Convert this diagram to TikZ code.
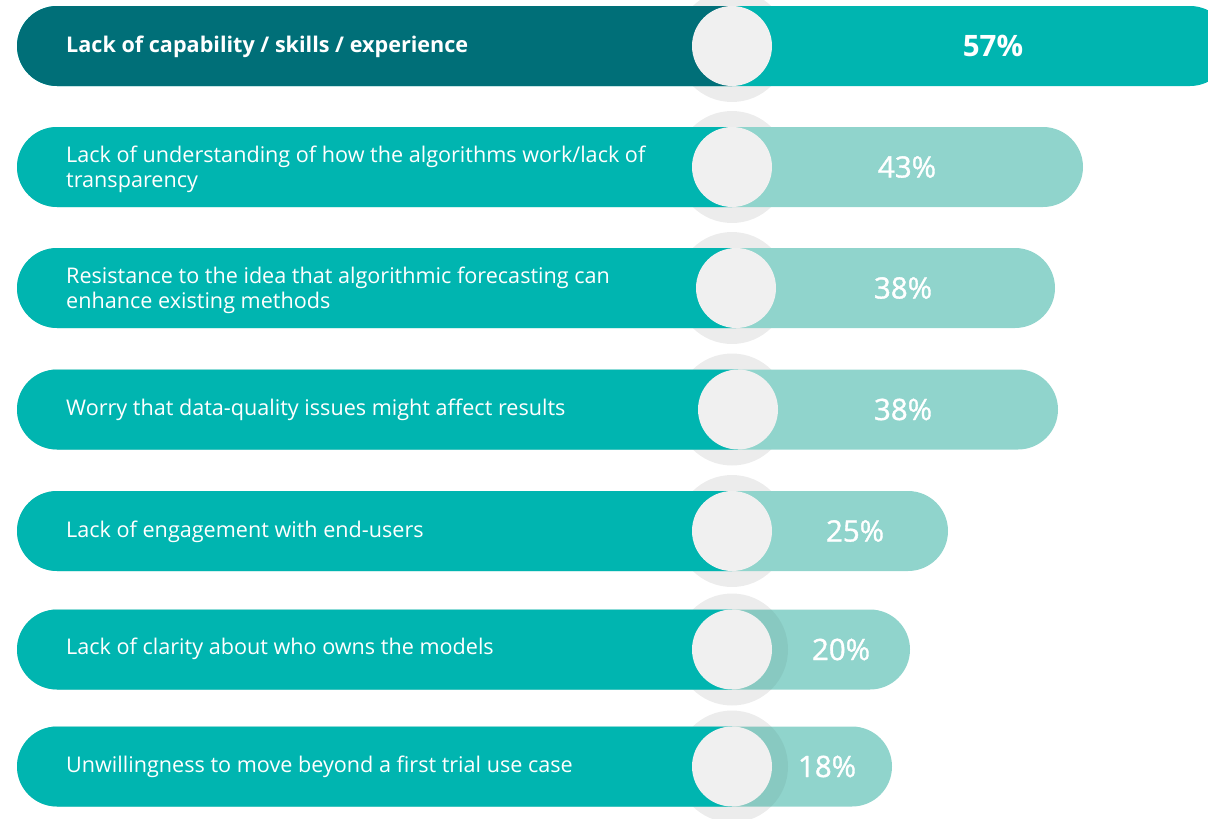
\documentclass[tikz,border=0pt]{standalone}
\usepackage{fontspec}
\setmainfont{Open Sans}
\newfontfamily\pctfont[FakeBold=1.2]{Open Sans}
\definecolor{darkteal}{RGB}{0,111,120}
\definecolor{teal}{RGB}{0,181,176}
\definecolor{lightteal}{RGB}{144,212,204}
\definecolor{knob}{RGB}{240,240,240}
\definecolor{halo}{RGB}{236,236,236}
\newcommand{\pillrow}[5]{%
  \fill[halo] (732,#1) circle[radius=56];
  \fill[#5,rounded corners=40pt] (17,#1-40) rectangle (#2,#1+40);
  \begin{scope}
    \clip (0,#1-41) rectangle (#3,#1+41);
    \fill[#4,rounded corners=40pt] (17,#1-40) rectangle (#2,#1+40);
  \end{scope}
}
\newcommand{\haloover}[2]{%
  \begin{scope}
    \clip[rounded corners=40pt] (17,#1-40) rectangle (#2,#1+40);
    \clip (732,#1-41) rectangle (#2,#1+41);
    \fill[black,opacity=0.05] (732,#1) circle[radius=56];
  \end{scope}
}
\begin{document}
\begin{tikzpicture}[x=1pt,y=-1pt,
  knobstyle/.style={circle,fill=knob,minimum size=80pt,inner sep=0pt},
  lbl/.style={anchor=base west,text=white,inner sep=0pt,font=\fontsize{21.6}{26}\selectfont},
  pct/.style={text=white,inner sep=0pt,font=\fontsize{29.5}{33}\selectfont}]
\useasboundingbox (0,0) rectangle (1208,819);
\clip (0,0) rectangle (1208,819);
% row 1
\pillrow{46}{1230}{732}{darkteal}{teal}
\node[knobstyle] (k1) at (732,46) {};
\node[lbl] (l1) at (66,52) {\bfseries Lack of capability / skills / experience};
\node[pct] (p1) at (993,46) {\bfseries 57\%};
% row 2
\pillrow{167}{1083}{732}{teal}{lightteal}
\node[knobstyle] (k2) at (732,167) {};
\node[lbl] (l2a) at (66,162) {Lack of understanding of how the algorithms work/lack of};
\node[lbl] (l2b) at (66,187) {transparency};
\node[pct] (p2) at (907,167) {\pctfont 43\%};
% row 3
\pillrow{288}{1055}{736}{teal}{lightteal}
\node[knobstyle] (k3) at (736,288) {};
\node[lbl] (l3a) at (66,283) {Resistance to the idea that algorithmic forecasting can};
\node[lbl] (l3b) at (66,308) {enhance existing methods};
\node[pct] (p3) at (903,288) {\pctfont 38\%};
% row 4
\pillrow{409.5}{1058}{738}{teal}{lightteal}
\node[knobstyle] (k4) at (738,409.5) {};
\node[lbl] (l4) at (66,415.5) {Worry that data-quality issues might affect results};
\node[pct] (p4) at (903,409.5) {\pctfont 38\%};
% row 5
\pillrow{531}{948}{732}{teal}{lightteal}
\node[knobstyle] (k5) at (732,531) {};
\node[lbl] (l5) at (66,537) {Lack of engagement with end-users};
\node[pct] (p5) at (855,531) {\pctfont 25\%};
% row 6
\pillrow{649.5}{910}{732}{teal}{lightteal}
\haloover{649.5}{910}
\node[knobstyle] (k6) at (732,649.5) {};
\node[lbl] (l6) at (66,654) {Lack of clarity about who owns the models};
\node[pct] (p6) at (841,649.5) {\pctfont 20\%};
% row 7
\pillrow{766.5}{892}{732}{teal}{lightteal}
\haloover{766.5}{892}
\node[knobstyle] (k7) at (732,766.5) {};
\node[lbl] (l7) at (66,772) {Unwillingness to move beyond a first trial use case};
\node[pct] (p7) at (827,766.5) {\pctfont 18\%};
\end{tikzpicture}
\end{document}
